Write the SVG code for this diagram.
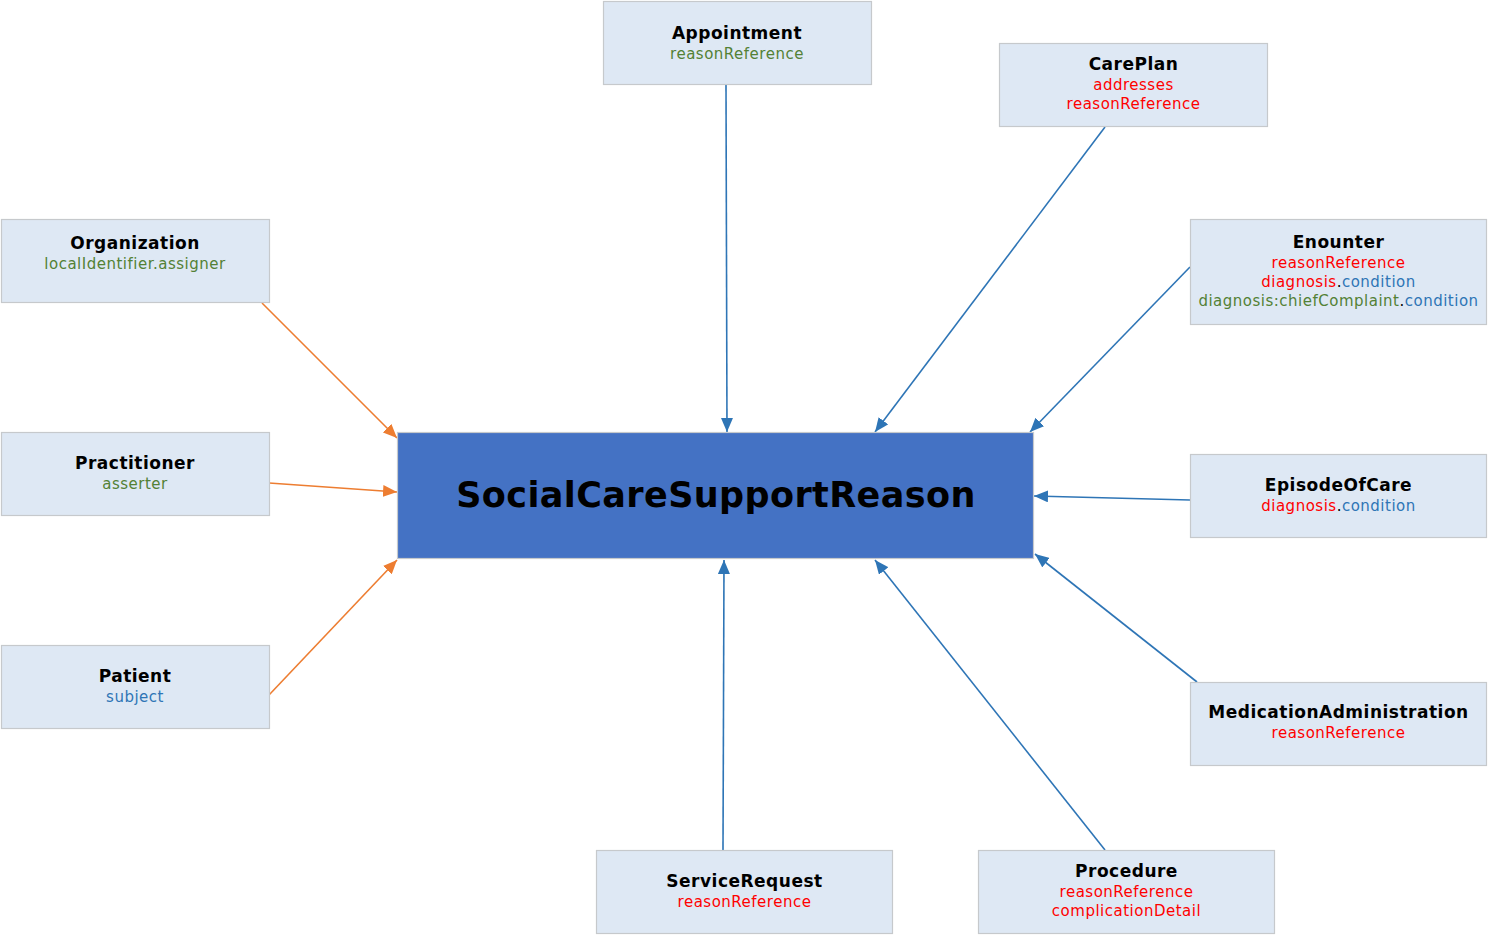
<svg xmlns="http://www.w3.org/2000/svg" width="1488" height="935" viewBox="0 0 1488 935">
<style>
.box{fill:#dee8f4;stroke:#c6c9cc;stroke-width:1.2}
.main{fill:#4472c4;stroke:#c6c9cc;stroke-width:1.2}
text{font-family:"DejaVu Sans",Verdana,sans-serif;text-anchor:middle}
.t{font-size:17px;font-weight:bold;fill:#000;letter-spacing:0.5px}
.s{font-size:15px;letter-spacing:0.5px}
.g{fill:#538135}.r{fill:#ff0000}.b{fill:#2e75b6}.k{fill:#000}
.cb{stroke:#2e75b6;stroke-width:1.6;fill:none;marker-end:url(#ab)}
.co{stroke:#ed7d31;stroke-width:1.6;fill:none;marker-end:url(#ao)}
</style>
<defs>
<marker id="ab" viewBox="0 0 10 10" refX="10" refY="5" markerWidth="14" markerHeight="12" markerUnits="userSpaceOnUse" orient="auto" preserveAspectRatio="none"><path d="M0,0L10,5L0,10z" fill="#2e75b6"/></marker>
<marker id="ao" viewBox="0 0 10 10" refX="10" refY="5" markerWidth="14" markerHeight="12" markerUnits="userSpaceOnUse" orient="auto" preserveAspectRatio="none"><path d="M0,0L10,5L0,10z" fill="#ed7d31"/></marker>
</defs>
<g id="connectors">
<line class="cb" x1="726" y1="85" x2="727" y2="432"/>
<line class="cb" x1="1105" y1="127" x2="875" y2="432"/>
<line class="cb" x1="1190" y1="267" x2="1030" y2="432"/>
<line class="cb" x1="1190" y1="500" x2="1034" y2="496"/>
<line class="cb" x1="1197" y1="682" x2="1035" y2="554"/>
<line class="cb" x1="1105" y1="850" x2="875" y2="560"/>
<line class="cb" x1="723" y1="850" x2="724" y2="560"/>
<line class="co" x1="262" y1="303" x2="397" y2="438"/>
<line class="co" x1="269" y1="483" x2="397" y2="492"/>
<line class="co" x1="269" y1="695" x2="397" y2="560"/>
</g>
<g id="SocialCareSupportReason">
<rect class="main" x="397.5" y="432.5" width="636" height="126"/>
<text x="716" y="507" style="font-size:35px;font-weight:bold;fill:#000;letter-spacing:0.4px">SocialCareSupportReason</text>
</g>
<g id="Appointment">
<rect class="box" x="603.5" y="1.5" width="268" height="83"/>
<text class="t" x="737" y="39">Appointment</text>
<text class="s g" x="737" y="59">reasonReference</text>
</g>
<g id="CarePlan">
<rect class="box" x="999.5" y="43.5" width="268" height="83"/>
<text class="t" x="1133.5" y="70">CarePlan</text>
<text class="s r" x="1133.5" y="90">addresses</text>
<text class="s r" x="1133.5" y="109">reasonReference</text>
</g>
<g id="Enounter">
<rect class="box" x="1190.5" y="219.5" width="296" height="105"/>
<text class="t" x="1338.5" y="248">Enounter</text>
<text class="s r" x="1338.5" y="268">reasonReference</text>
<text class="s" x="1338.5" y="287"><tspan class="r">diagnosis</tspan><tspan class="k">.</tspan><tspan class="b">condition</tspan></text>
<text class="s" x="1338.5" y="306"><tspan class="g">diagnosis:chiefComplaint</tspan><tspan class="k">.</tspan><tspan class="b">condition</tspan></text>
</g>
<g id="Organization">
<rect class="box" x="1.5" y="219.5" width="268" height="83"/>
<text class="t" x="135" y="249">Organization</text>
<text class="s g" x="135" y="269">localIdentifier.assigner</text>
</g>
<g id="Practitioner">
<rect class="box" x="1.5" y="432.5" width="268" height="83"/>
<text class="t" x="135" y="469">Practitioner</text>
<text class="s g" x="135" y="489">asserter</text>
</g>
<g id="EpisodeOfCare">
<rect class="box" x="1190.5" y="454.5" width="296" height="83"/>
<text class="t" x="1338.5" y="491">EpisodeOfCare</text>
<text class="s" x="1338.5" y="511"><tspan class="r">diagnosis</tspan><tspan class="k">.</tspan><tspan class="b">condition</tspan></text>
</g>
<g id="Patient">
<rect class="box" x="1.5" y="645.5" width="268" height="83"/>
<text class="t" x="135" y="682">Patient</text>
<text class="s b" x="135" y="702">subject</text>
</g>
<g id="MedicationAdministration">
<rect class="box" x="1190.5" y="682.5" width="296" height="83"/>
<text class="t" x="1338.5" y="718">MedicationAdministration</text>
<text class="s r" x="1338.5" y="738">reasonReference</text>
</g>
<g id="ServiceRequest">
<rect class="box" x="596.5" y="850.5" width="296" height="83"/>
<text class="t" x="744.5" y="887">ServiceRequest</text>
<text class="s r" x="744.5" y="907">reasonReference</text>
</g>
<g id="Procedure">
<rect class="box" x="978.5" y="850.5" width="296" height="83"/>
<text class="t" x="1126.5" y="877">Procedure</text>
<text class="s r" x="1126.5" y="897">reasonReference</text>
<text class="s r" x="1126.5" y="916">complicationDetail</text>
</g>
</svg>
